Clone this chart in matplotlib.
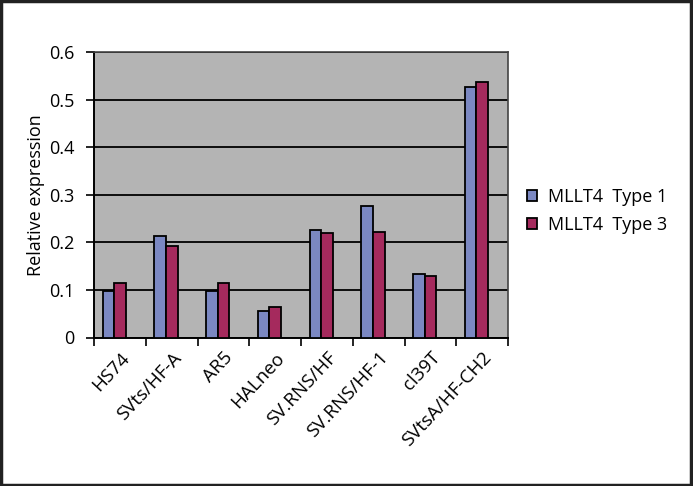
import matplotlib
matplotlib.use("Agg")
import matplotlib.pyplot as plt
import numpy as np
from matplotlib.patches import Rectangle

categories = ["HS74", "SVts/HF-A", "AR5", "HALneo", "SV.RNS/HF", "SV.RNS/HF-1", "cl39T", "SVtsA/HF-CH2"]
type1 = [0.098, 0.214, 0.098, 0.056, 0.226, 0.277, 0.133, 0.528]
type3 = [0.115, 0.192, 0.115, 0.065, 0.220, 0.223, 0.130, 0.537]
series_names = ["MLLT4  Type 1", "MLLT4  Type 3"]
yticks = [0, 0.1, 0.2, 0.3, 0.4, 0.5, 0.6]

plt.rcParams['font.family'] = ['Open Sans', 'DejaVu Sans']

fig = plt.figure(figsize=(6.93, 4.86), dpi=100)
ax = fig.add_axes([94/693, 1-337.5/486, (508-94)/693, 285/486])
ax.set_facecolor("#b4b4b4")

x = np.arange(len(categories))
w = 0.224
off = -0.11
b1 = ax.bar(x + off - w/2, type1, w, color="#7b88c2", edgecolor="black", linewidth=1.3, zorder=3, label=series_names[0])
b2 = ax.bar(x + off + w/2, type3, w, color="#a52a5d", edgecolor="black", linewidth=1.3, zorder=3, label=series_names[1])

ax.set_xlim(-0.5, len(categories) - 0.5)
ax.set_ylim(0, 0.6)
ax.set_yticks(yticks)
ax.set_yticklabels(["0" if t == 0 else f"{t:.1f}" for t in yticks], fontsize=13)
ax.yaxis.grid(True, color="black", linewidth=1.3, zorder=1)
ax.set_axisbelow(True)

ax.set_xticks(np.arange(len(categories) + 1) - 0.5, minor=False)
ax.set_xticklabels([])
ax.set_xticks(x, minor=True)
ax.set_xticklabels(categories, minor=True, rotation=47, ha="right", rotation_mode="anchor", fontsize=13.5)
ax.tick_params(axis="x", which="minor", length=0, pad=8)
ax.tick_params(axis="x", which="major", length=6, width=1.2, direction="out")
ax.tick_params(axis="y", length=6, width=1.2, direction="out", pad=8)

for s in ["top", "right"]:
    ax.spines[s].set_color("#444444")
    ax.spines[s].set_linewidth(1.2)
for s in ["left", "bottom"]:
    ax.spines[s].set_color("black")
    ax.spines[s].set_linewidth(1.4)

ax.set_ylabel("Relative expression", fontsize=13, labelpad=3)

fig.legend(handles=[b1, b2], labels=series_names, loc="upper left",
           bbox_to_anchor=(511/693, 1-172/486), frameon=False, fontsize=13,
           handlelength=0.55, handleheight=0.55, handletextpad=0.6, labelspacing=0.55)

fig.patches.append(Rectangle((0.0015, 0.002), 0.995, 0.995, transform=fig.transFigure,
                             fill=False, edgecolor="#222222", linewidth=2.5))

fig.savefig("out.png", dpi=100)
